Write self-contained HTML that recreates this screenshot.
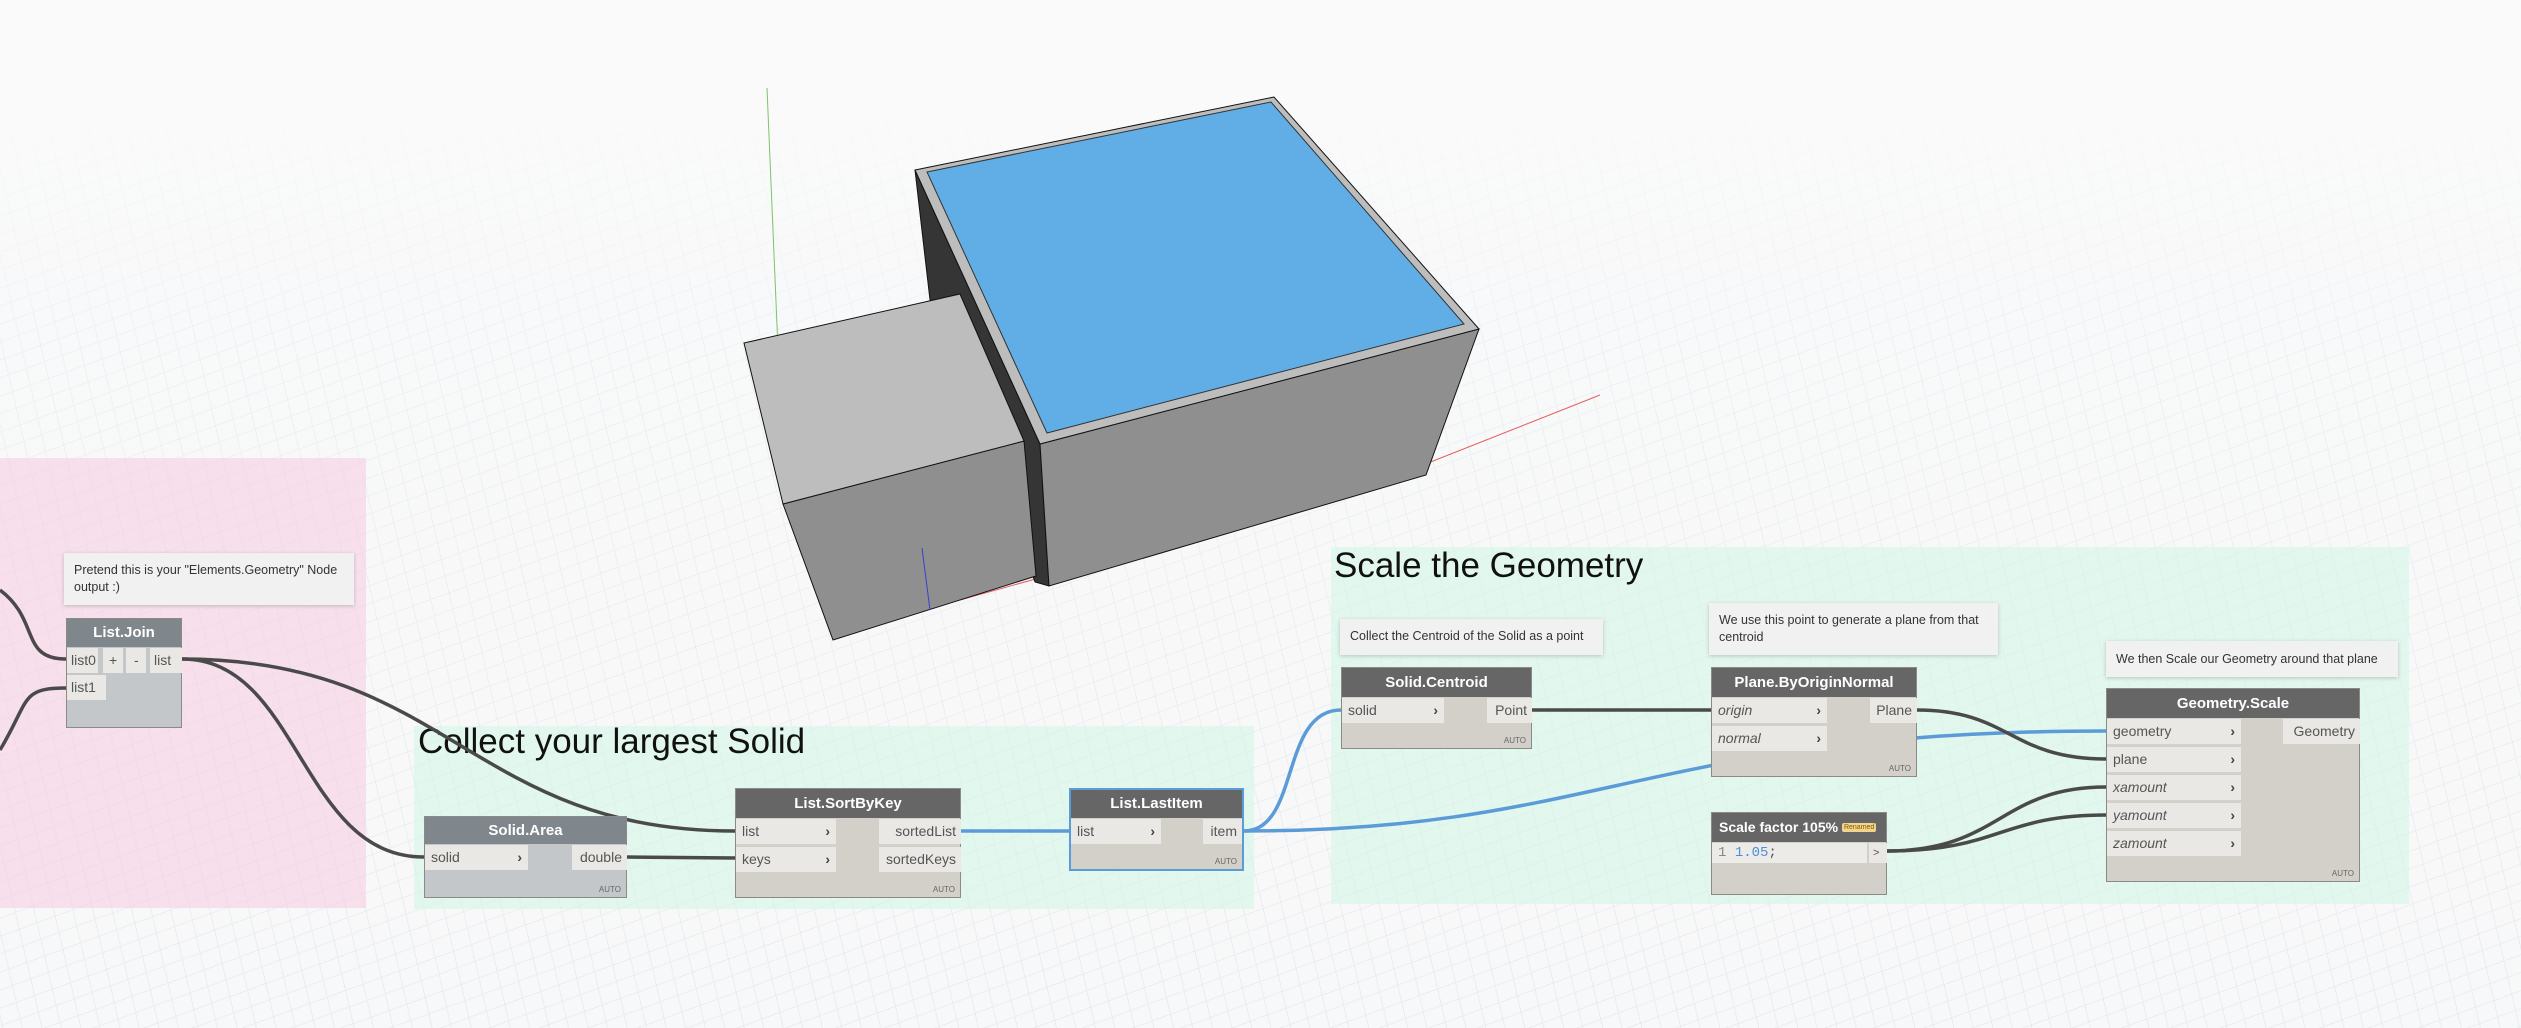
<!DOCTYPE html>
<html><head><meta charset="utf-8"><style>
*{margin:0;padding:0;box-sizing:border-box}
body{width:2521px;height:1028px;overflow:hidden;background:#f7f8f9;font-family:"Liberation Sans",sans-serif;position:relative}
.abs{position:absolute}
.node{position:absolute;background:#d3d0ca;border:1px solid #8c8a86}
.node.g{background:#c3c7ca}
.hd{position:absolute;left:0;top:0;right:0;background:#666;color:#fff;font-weight:bold;font-size:15px;text-align:center}
.node.g .hd{background:#80878c}
.p{position:absolute;background:#e9e8e5;height:25px;line-height:25px;font-size:14px;color:#555;padding-left:6px}
.p.o{padding-left:0;text-align:right;padding-right:5px}
.p i{font-style:italic}
.ch{position:absolute;right:6px;top:0;color:#444;font-weight:bold}
.auto{position:absolute;right:5px;bottom:3px;font-size:8px;color:#666}
.note{position:absolute;background:#f1f1f1;box-shadow:0 1px 4px rgba(0,0,0,.2);font-size:12.5px;color:#333;padding:9px 10px;line-height:17px}
.title{position:absolute;font-size:35px;color:#111}
</style></head><body>
<svg class="abs" style="left:0;top:0" width="2521" height="1028">
<defs>
<pattern id="gr" width="36" height="36" patternUnits="userSpaceOnUse" patternTransform="skewY(-20) skewX(12)">
<path d="M0 0H36M0 0V36" stroke="#d9dfe6" stroke-width="1" fill="none"/>
<path d="M0 18H36M18 0V36" stroke="#e8ecef" stroke-width="1" fill="none"/>
</pattern>
<linearGradient id="fd" x1="0" y1="0" x2="0" y2="1">
<stop offset="0" stop-color="#fafafa" stop-opacity="1"/>
<stop offset="0.12" stop-color="#fafafa" stop-opacity="0.9"/>
<stop offset="0.35" stop-color="#fafafa" stop-opacity="0.35"/>
<stop offset="1" stop-color="#fafafa" stop-opacity="0.1"/>
</linearGradient>
</defs>
<rect width="2521" height="1028" fill="url(#gr)"/>
<rect width="2521" height="1028" fill="url(#fd)"/>
<line x1="767" y1="88" x2="783" y2="468" stroke="#7cc46a" stroke-width="1"/>
<line x1="1428" y1="463" x2="1600" y2="395" stroke="#e46060" stroke-width="1"/>
<line x1="960" y1="600" x2="1050" y2="575" stroke="#e46060" stroke-width="1"/>
<polygon points="915,170 1040,444 1049,586 1035,582 930,300" fill="#353535" stroke="#111"/>
<polygon points="1040,444 1479,329 1426,475 1049,586" fill="#8f8f8f" stroke="#111"/>
<polygon points="915,170 1274,97 1479,329 1040,444" fill="#bdbdbd" stroke="#111"/>
<polygon points="927,172 1271,102 1464,324 1047,433" fill="#61aee6" stroke="#333"/>
<polygon points="783,504 1024,441 1036,576 833,640" fill="#8f8f8f" stroke="#111"/>
<polygon points="744,343 960,294 1024,441 783,504" fill="#bdbdbd" stroke="#111"/>
<line x1="922" y1="548" x2="930" y2="610" stroke="#3344cc" stroke-width="1"/>
</svg>

<div class="abs" style="left:0;top:458px;width:366px;height:450px;background:rgba(246,206,226,0.6)"></div>
<div class="abs" style="left:414px;top:726px;width:840px;height:183px;background:rgba(214,246,230,0.65)"></div>
<div class="abs" style="left:1331px;top:547px;width:1078px;height:357px;background:rgba(214,246,230,0.65)"></div>

<div class="title" style="left:418px;top:722px">Collect your largest Solid</div>
<div class="title" style="left:1334px;top:546px">Scale the Geometry</div>

<div class="note" style="left:64px;top:553px;width:290px;height:52px">Pretend this is your "Elements.Geometry" Node output :)</div>
<div class="note" style="left:1340px;top:619px;width:263px;height:36px">Collect the Centroid of the Solid as a point</div>
<div class="note" style="left:1709px;top:603px;width:289px;height:52px">We use this point to generate a plane from that centroid</div>
<div class="note" style="left:2106px;top:641px;width:292px;height:36px;padding-top:10px">We then Scale our Geometry around that plane</div>

<svg class="abs" style="left:0;top:0" width="2521" height="1028" fill="none" stroke-width="3.5">
<path d="M0 590 C40 620, 20 659, 66 659" stroke="#4a4a4a"/>
<path d="M0 750 C30 700, 20 688, 66 688" stroke="#4a4a4a"/>
<path d="M182 659 C450 659, 470 831, 735 831" stroke="#4a4a4a"/>
<path d="M182 659 C300 659, 300 857, 424 857" stroke="#4a4a4a"/>
<path d="M627 857 L735 858" stroke="#4a4a4a"/>
<path d="M961 831 L1069 831" stroke="#5b9bd8"/>
<path d="M1244 831 C1300 831, 1280 710, 1341 710" stroke="#5b9bd8"/>
<path d="M1244 831 C1600 831, 1650 731, 2106 731" stroke="#5b9bd8"/>
<path d="M1532 710 L1711 710" stroke="#4a4a4a"/>
<path d="M1917 710 C2010 710, 2010 759, 2106 759" stroke="#4a4a4a"/>
<path d="M1887 851 C2000 851, 2000 787, 2106 787" stroke="#4a4a4a"/>
<path d="M1887 851 C2000 851, 2000 815, 2106 815" stroke="#4a4a4a"/>
</svg>

<div class="node g" style="left:66px;top:618px;width:116px;height:110px">
<div class="hd" style="height:28px;line-height:28px">List.Join</div>
<div class="p" style="left:0;top:29px;width:31px;padding-left:4px">list0</div>
<div class="p" style="left:36px;top:29px;width:20px;padding-left:6px">+</div>
<div class="p" style="left:59px;top:29px;width:20px;padding-left:8px">-</div>
<div class="p" style="left:83px;top:29px;width:32px;padding-left:4px">list</div>
<div class="p" style="left:0;top:56px;width:39px;padding-left:4px">list1</div>
</div>
<div class="node g" style="left:424px;top:816px;width:203px;height:82px">
<div class="hd" style="height:27px;line-height:27px">Solid.Area</div>
<div class="p" style="left:0;top:28px;width:103px">solid<span class="ch">&#x203A;</span></div>
<div class="p o" style="left:147px;top:28px;width:55px">double</div>
<div class="auto">AUTO</div>
</div>
<div class="node" style="left:735px;top:788px;width:226px;height:110px">
<div class="hd" style="height:29px;line-height:29px">List.SortByKey</div>
<div class="p" style="left:0;top:30px;width:100px">list<span class="ch">&#x203A;</span></div>
<div class="p" style="left:0;top:58px;width:100px">keys<span class="ch">&#x203A;</span></div>
<div class="p o" style="left:143px;top:30px;width:82px">sortedList</div>
<div class="p o" style="left:143px;top:58px;width:82px">sortedKeys</div>
<div class="auto">AUTO</div>
</div>
<div class="node" style="left:1069px;top:788px;width:175px;height:83px;border:2px solid #5b9bd8">
<div class="hd" style="height:28px;line-height:28px">List.LastItem</div>
<div class="p" style="left:0;top:29px;width:90px">list<span class="ch">&#x203A;</span></div>
<div class="p o" style="left:132px;top:29px;width:39px">item</div>
<div class="auto">AUTO</div>
</div>
<div class="node" style="left:1341px;top:667px;width:191px;height:82px">
<div class="hd" style="height:29px;line-height:29px">Solid.Centroid</div>
<div class="p" style="left:0;top:30px;width:102px">solid<span class="ch">&#x203A;</span></div>
<div class="p o" style="left:145px;top:30px;width:45px">Point</div>
<div class="auto">AUTO</div>
</div>
<div class="node" style="left:1711px;top:667px;width:206px;height:110px">
<div class="hd" style="height:29px;line-height:29px">Plane.ByOriginNormal</div>
<div class="p" style="left:0;top:30px;width:115px"><i>origin</i><span class="ch">&#x203A;</span></div>
<div class="p" style="left:0;top:58px;width:115px"><i>normal</i><span class="ch">&#x203A;</span></div>
<div class="p o" style="left:158px;top:30px;width:47px">Plane</div>
<div class="auto">AUTO</div>
</div>
<div class="node" style="left:1711px;top:812px;width:176px;height:83px">
<div class="hd" style="height:29px;line-height:29px;text-align:left;padding-left:7px;font-size:14px">Scale factor 105% <span style="background:#f3d488;color:#7a5a10;font-size:7px;font-weight:normal;padding:1px 2px;border-radius:2px;vertical-align:3px">Renamed</span></div>
<div class="p" style="left:0;top:30px;width:155px;height:20px;line-height:20px;font-family:'Liberation Mono',monospace;font-size:14px;background:#ecebe8"><span style="color:#888">1 </span><span style="color:#4a8fd8">1.05</span>;</div>
<div class="p" style="left:157px;top:30px;width:18px;height:20px;line-height:20px;padding-left:4px;font-size:11px">&gt;</div>
</div>
<div class="node" style="left:2106px;top:688px;width:254px;height:194px">
<div class="hd" style="height:29px;line-height:29px">Geometry.Scale</div>
<div class="p" style="left:0;top:30px;width:134px">geometry<span class="ch">&#x203A;</span></div>
<div class="p" style="left:0;top:58px;width:134px">plane<span class="ch">&#x203A;</span></div>
<div class="p" style="left:0;top:86px;width:134px"><i>xamount</i><span class="ch">&#x203A;</span></div>
<div class="p" style="left:0;top:114px;width:134px"><i>yamount</i><span class="ch">&#x203A;</span></div>
<div class="p" style="left:0;top:142px;width:134px"><i>zamount</i><span class="ch">&#x203A;</span></div>
<div class="p o" style="left:176px;top:30px;width:77px">Geometry</div>
<div class="auto">AUTO</div>
</div>
</body></html>
